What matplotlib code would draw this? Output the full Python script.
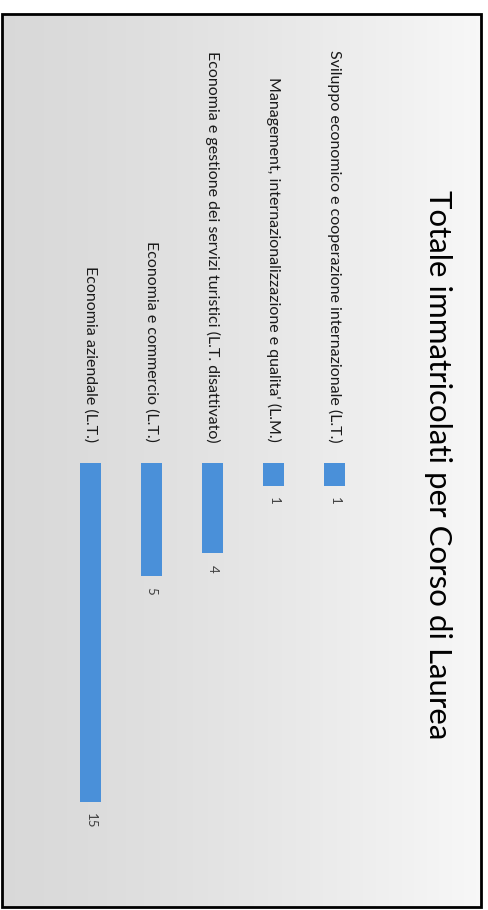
import numpy as np
import matplotlib
matplotlib.use("Agg")
import matplotlib.pyplot as plt
from matplotlib.patches import Rectangle

# data (order as in the slide, first = top of the original chart)
corsi = [
    "Sviluppo economico e cooperazione internazionale (L.T.)",
    "Management, internazionalizzazione e qualita' (L.M.)",
    "Economia e gestione dei servizi turistici (L.T. disattivato)",
    "Economia e commercio (L.T.)",
    "Economia aziendale (L.T.)",
]
immatricolati = [1, 1, 4, 5, 15]
titolo = "Totale immatricolati per Corso di Laurea"

plt.rcParams['font.family'] = ['Lato', 'DejaVu Sans']

W, H = 488, 910
fig = plt.figure(figsize=(W / 100, H / 100), dpi=100)
fig.patch.set_facecolor('white')

# slide background: grey on the left fading to white on the right
bg = fig.add_axes([2 / W, 1 - 907 / H, 479 / W, (907 - 14) / H], zorder=0)
t = np.linspace(0, 1, 300)
shade = 0.85 + 0.12 * t ** 1.3
grad = np.tile(shade, (20, 1))
bg.imshow(np.dstack([grad] * 3), aspect='auto', extent=[0, 1, 0, 1])
bg.set_axis_off()

# outer frame
fig.patches.append(Rectangle((2 / W, 1 - 907 / H), 479 / W, (907 - 14) / H,
                             transform=fig.transFigure, fill=False,
                             edgecolor='black', linewidth=2, zorder=5))

ax = fig.add_axes([60 / W, 1 - 870 / H, 305 / W, 407 / H], zorder=2)
ax.patch.set_alpha(0)
x = np.arange(len(corsi))
ax.bar(x, immatricolati, width=0.35, color='#4A90D9')
ax.set_xlim(-0.5, len(corsi) - 0.5)
ax.invert_xaxis()
ax.set_ylim(18, 0)

ax.xaxis.tick_top()
ax.set_xticks(x)
ax.set_xticklabels(corsi, rotation=-90, ha='center', va='bottom',
                   fontsize=11.5, color='#1a1a1a')
ax.tick_params(axis='x', length=0, pad=15)
ax.set_yticks([])
for s in ax.spines.values():
    s.set_visible(False)

for xi, v in zip(x, immatricolati):
    ax.text(xi, v + 0.5, str(v), rotation=-90, ha='center', va='top',
            fontsize=9.5, color='#404040')

fig.text(438 / W, 1 - 465 / H, titolo, rotation=-90, ha='center', va='center',
         fontsize=22.5, color='black')

fig.savefig('out.png', dpi=100)
